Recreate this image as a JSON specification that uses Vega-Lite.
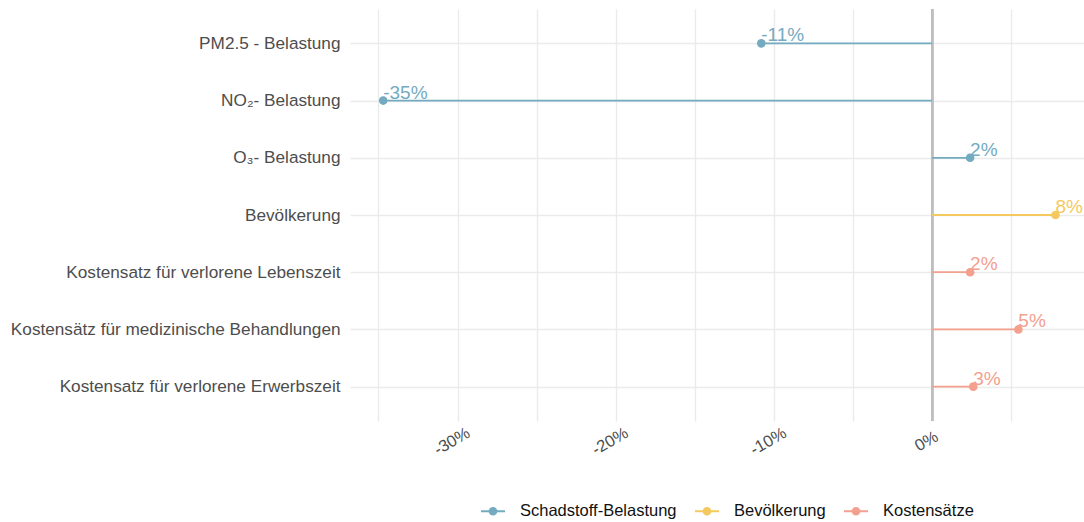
{
  "$schema": "https://vega.github.io/schema/vega-lite/v6.json",
  "autosize": {"type": "none"},
  "padding": {"left": 350, "top": 9, "right": 0, "bottom": 101},
  "width": 734,
  "height": 412,
  "background": "white",
  "config": {
    "view": {"stroke": null},
    "font": "Liberation Sans",
    "axis": {"labelFont": "Liberation Sans", "gridColor": "#ebebeb", "gridWidth": 1.4, "domain": false, "ticks": false, "title": null}
  },
  "data": {
    "values": [
      {"cat": "PM2.5 - Belastung", "group": "Schadstoff-Belastung", "value": -10.8, "label": "-11%"},
      {"cat": "NO₂- Belastung", "group": "Schadstoff-Belastung", "value": -34.7, "label": "-35%"},
      {"cat": "O₃- Belastung", "group": "Schadstoff-Belastung", "value": 2.4, "label": "2%"},
      {"cat": "Bevölkerung", "group": "Bevölkerung", "value": 7.8, "label": "8%"},
      {"cat": "Kostensatz für verlorene Lebenszeit", "group": "Kostensätze", "value": 2.4, "label": "2%"},
      {"cat": "Kostensätz für medizinische Behandlungen", "group": "Kostensätze", "value": 5.45, "label": "5%"},
      {"cat": "Kostensatz für verlorene Erwerbszeit", "group": "Kostensätze", "value": 2.6, "label": "3%"}
    ]
  },
  "encoding": {
    "y": {
      "field": "cat", "type": "nominal", "sort": null,
      "scale": {"type": "point", "padding": 0.6},
      "axis": {"labelFontSize": 17.2, "labelColor": "#4d4d4d", "labelPadding": 10, "labelLimit": 400, "grid": true}
    },
    "color": {
      "field": "group", "type": "nominal",
      "scale": {"domain": ["Schadstoff-Belastung", "Bevölkerung", "Kostensätze"], "range": ["#74abc1", "#f4c95e", "#f3a08f"]},
      "legend": {
        "orient": "none", "legendX": 130, "legendY": 489, "direction": "horizontal", "title": null,
        "symbolType": "M-1,0H1M0.28,0A0.28,0.28,0,1,1,-0.28,0A0.28,0.28,0,1,1,0.28,0Z",
        "symbolSize": 576, "symbolStrokeWidth": 2,
        "labelFontSize": 16.5, "labelColor": "#111111", "labelFont": "Liberation Sans",
        "labelOffset": 14, "columnPadding": 14,
        "encode": {"symbols": {"update": {"fill": {"scale": "color", "field": "value"}, "stroke": {"scale": "color", "field": "value"}}}}
      }
    }
  },
  "layer": [
    {
      "mark": {"type": "rule", "color": "#bebebe", "strokeWidth": 2.2},
      "encoding": {
        "x": {
          "datum": 0, "type": "quantitative",
          "scale": {"domain": [-36.8, 9.6], "nice": false, "zero": false},
          "axis": {
            "values": [-35, -30, -25, -20, -15, -10, -5, 0, 5],
            "labelExpr": "datum.value % 10 == 0 ? datum.value + '%' : ''",
            "labelFontSize": 16.5, "labelColor": "#4d4d4d",
            "labelAngle": -30, "labelAlign": "center", "labelBaseline": "middle",
            "labelPadding": 20, "labelOffset": -6, "grid": true
          }
        },
        "y": null,
        "color": null
      }
    },
    {
      "mark": {"type": "rule", "strokeWidth": 1.8},
      "encoding": {
        "x": {"field": "value", "type": "quantitative"},
        "x2": {"datum": 0}
      }
    },
    {
      "mark": {"type": "point", "filled": true, "size": 75, "opacity": 1},
      "encoding": {
        "x": {"field": "value", "type": "quantitative"}
      }
    },
    {
      "mark": {"type": "text", "align": "left", "baseline": "alphabetic", "dy": -2, "fontSize": 19, "font": "Liberation Sans"},
      "encoding": {
        "x": {"field": "value", "type": "quantitative"},
        "text": {"field": "label"}
      }
    }
  ]
}
